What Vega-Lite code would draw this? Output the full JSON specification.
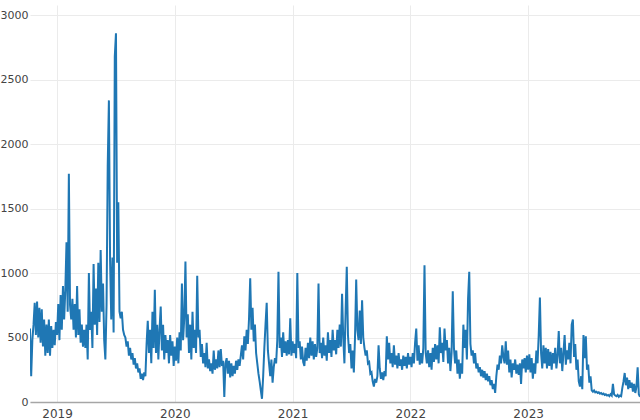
{
  "$schema": "https://vega.github.io/schema/vega-lite/v6.json",
  "autosize": {"type": "none"},
  "width": 610,
  "height": 397,
  "padding": {"left": 30, "top": 5, "right": 0, "bottom": 18},
  "background": "white",
  "config": {"view": {"stroke": null}},
  "data": {"values": [
    {"t":2018.77,"v":570},{"t":2018.78,"v":200},{"t":2018.79,"v":480},{"t":2018.80,"v":600},{"t":2018.81,"v":770},{"t":2018.82,"v":520},{"t":2018.83,"v":780},{"t":2018.84,"v":500},{"t":2018.85,"v":730},{"t":2018.86,"v":460},{"t":2018.87,"v":720},{"t":2018.88,"v":430},{"t":2018.89,"v":640},{"t":2018.90,"v":360},{"t":2018.91,"v":600},{"t":2018.92,"v":380},{"t":2018.93,"v":640},{"t":2018.94,"v":360},{"t":2018.95,"v":590},{"t":2018.96,"v":420},{"t":2018.97,"v":560},{"t":2018.98,"v":440},{"t":2018.99,"v":620},
    {"t":2019.00,"v":520},{"t":2019.01,"v":760},{"t":2019.02,"v":480},{"t":2019.03,"v":830},{"t":2019.04,"v":560},{"t":2019.05,"v":900},{"t":2019.06,"v":640},{"t":2019.07,"v":870},{"t":2019.08,"v":1240},{"t":2019.09,"v":700},{"t":2019.10,"v":1770},{"t":2019.11,"v":750},{"t":2019.12,"v":640},{"t":2019.13,"v":800},{"t":2019.14,"v":560},{"t":2019.15,"v":760},{"t":2019.16,"v":500},{"t":2019.17,"v":900},{"t":2019.18,"v":520},{"t":2019.19,"v":720},{"t":2019.20,"v":460},{"t":2019.21,"v":600},{"t":2019.22,"v":430},{"t":2019.23,"v":560},{"t":2019.24,"v":420},{"t":2019.25,"v":600},{"t":2019.26,"v":330},{"t":2019.27,"v":1000},{"t":2019.28,"v":560},{"t":2019.29,"v":700},{"t":2019.30,"v":420},{"t":2019.31,"v":1070},{"t":2019.32,"v":600},{"t":2019.33,"v":880},{"t":2019.34,"v":520},{"t":2019.35,"v":1080},{"t":2019.36,"v":620},{"t":2019.37,"v":1180},{"t":2019.38,"v":700},{"t":2019.39,"v":920},{"t":2019.40,"v":480},{"t":2019.41,"v":330},{"t":2019.42,"v":750},{"t":2019.43,"v":1830},{"t":2019.44,"v":2340},{"t":2019.45,"v":1100},{"t":2019.46,"v":640},{"t":2019.47,"v":1120},{"t":2019.48,"v":540},{"t":2019.49,"v":2680},{"t":2019.50,"v":2860},{"t":2019.51,"v":1080},{"t":2019.52,"v":1550},{"t":2019.53,"v":700},{"t":2019.54,"v":650},{"t":2019.55,"v":700},{"t":2019.56,"v":560},{"t":2019.57,"v":520},{"t":2019.58,"v":500},{"t":2019.59,"v":430},{"t":2019.60,"v":470},{"t":2019.61,"v":360},{"t":2019.62,"v":420},{"t":2019.63,"v":330},{"t":2019.64,"v":380},{"t":2019.65,"v":290},{"t":2019.66,"v":340},{"t":2019.67,"v":260},{"t":2019.68,"v":300},{"t":2019.69,"v":230},{"t":2019.70,"v":260},{"t":2019.71,"v":180},{"t":2019.72,"v":220},{"t":2019.73,"v":170},{"t":2019.74,"v":230},{"t":2019.75,"v":200},{"t":2019.76,"v":450},{"t":2019.77,"v":630},{"t":2019.78,"v":380},{"t":2019.79,"v":560},{"t":2019.80,"v":300},{"t":2019.81,"v":700},{"t":2019.82,"v":420},{"t":2019.83,"v":870},{"t":2019.84,"v":380},{"t":2019.85,"v":600},{"t":2019.86,"v":330},{"t":2019.87,"v":560},{"t":2019.88,"v":740},{"t":2019.89,"v":400},{"t":2019.90,"v":600},{"t":2019.91,"v":330},{"t":2019.92,"v":520},{"t":2019.93,"v":380},{"t":2019.94,"v":480},{"t":2019.95,"v":300},{"t":2019.96,"v":520},{"t":2019.97,"v":360},{"t":2019.98,"v":470},{"t":2019.99,"v":280},
    {"t":2020.00,"v":430},{"t":2020.01,"v":320},{"t":2020.02,"v":500},{"t":2020.03,"v":300},{"t":2020.04,"v":540},{"t":2020.05,"v":400},{"t":2020.06,"v":920},{"t":2020.07,"v":480},{"t":2020.08,"v":650},{"t":2020.09,"v":1090},{"t":2020.10,"v":500},{"t":2020.11,"v":680},{"t":2020.12,"v":380},{"t":2020.13,"v":600},{"t":2020.14,"v":330},{"t":2020.15,"v":700},{"t":2020.16,"v":420},{"t":2020.17,"v":560},{"t":2020.18,"v":380},{"t":2020.19,"v":980},{"t":2020.20,"v":500},{"t":2020.21,"v":560},{"t":2020.22,"v":350},{"t":2020.23,"v":450},{"t":2020.24,"v":300},{"t":2020.25,"v":380},{"t":2020.26,"v":270},{"t":2020.27,"v":460},{"t":2020.28,"v":260},{"t":2020.29,"v":330},{"t":2020.30,"v":240},{"t":2020.31,"v":300},{"t":2020.32,"v":220},{"t":2020.33,"v":400},{"t":2020.34,"v":250},{"t":2020.35,"v":330},{"t":2020.36,"v":260},{"t":2020.37,"v":400},{"t":2020.38,"v":270},{"t":2020.39,"v":410},{"t":2020.40,"v":280},{"t":2020.41,"v":320},{"t":2020.42,"v":40},{"t":2020.43,"v":300},{"t":2020.44,"v":340},{"t":2020.45,"v":220},{"t":2020.46,"v":320},{"t":2020.47,"v":190},{"t":2020.48,"v":300},{"t":2020.49,"v":200},{"t":2020.50,"v":280},{"t":2020.51,"v":220},{"t":2020.52,"v":320},{"t":2020.53,"v":250},{"t":2020.54,"v":330},{"t":2020.55,"v":280},{"t":2020.56,"v":360},{"t":2020.57,"v":440},{"t":2020.58,"v":330},{"t":2020.59,"v":510},{"t":2020.60,"v":400},{"t":2020.61,"v":560},{"t":2020.62,"v":450},{"t":2020.63,"v":650},{"t":2020.64,"v":960},{"t":2020.65,"v":560},{"t":2020.66,"v":730},{"t":2020.67,"v":470},{"t":2020.68,"v":600},{"t":2020.69,"v":380},{"t":2020.70,"v":300},{"t":2020.71,"v":220},{"t":2020.72,"v":160},{"t":2020.73,"v":90},{"t":2020.74,"v":25},{"t":2020.75,"v":200},{"t":2020.76,"v":420},{"t":2020.77,"v":600},{"t":2020.78,"v":770},{"t":2020.79,"v":400},{"t":2020.80,"v":300},{"t":2020.81,"v":200},{"t":2020.82,"v":330},{"t":2020.83,"v":150},{"t":2020.84,"v":270},{"t":2020.85,"v":340},{"t":2020.86,"v":300},{"t":2020.87,"v":480},{"t":2020.88,"v":1010},{"t":2020.89,"v":420},{"t":2020.90,"v":500},{"t":2020.91,"v":350},{"t":2020.92,"v":540},{"t":2020.93,"v":380},{"t":2020.94,"v":470},{"t":2020.95,"v":360},{"t":2020.96,"v":480},{"t":2020.97,"v":370},{"t":2020.98,"v":650},{"t":2020.99,"v":360},
    {"t":2021.00,"v":470},{"t":2021.01,"v":380},{"t":2021.02,"v":450},{"t":2021.03,"v":340},{"t":2021.04,"v":1000},{"t":2021.05,"v":420},{"t":2021.06,"v":470},{"t":2021.07,"v":330},{"t":2021.08,"v":430},{"t":2021.09,"v":310},{"t":2021.10,"v":280},{"t":2021.11,"v":420},{"t":2021.12,"v":320},{"t":2021.13,"v":460},{"t":2021.14,"v":340},{"t":2021.15,"v":500},{"t":2021.16,"v":360},{"t":2021.17,"v":470},{"t":2021.18,"v":330},{"t":2021.19,"v":450},{"t":2021.20,"v":350},{"t":2021.21,"v":420},{"t":2021.22,"v":920},{"t":2021.23,"v":380},{"t":2021.24,"v":460},{"t":2021.25,"v":340},{"t":2021.26,"v":500},{"t":2021.27,"v":360},{"t":2021.28,"v":440},{"t":2021.29,"v":320},{"t":2021.30,"v":540},{"t":2021.31,"v":380},{"t":2021.32,"v":480},{"t":2021.33,"v":350},{"t":2021.34,"v":560},{"t":2021.35,"v":400},{"t":2021.36,"v":480},{"t":2021.37,"v":370},{"t":2021.38,"v":560},{"t":2021.39,"v":420},{"t":2021.40,"v":600},{"t":2021.41,"v":430},{"t":2021.42,"v":840},{"t":2021.43,"v":500},{"t":2021.44,"v":300},{"t":2021.45,"v":700},{"t":2021.46,"v":1050},{"t":2021.47,"v":520},{"t":2021.48,"v":380},{"t":2021.49,"v":450},{"t":2021.50,"v":260},{"t":2021.51,"v":400},{"t":2021.52,"v":230},{"t":2021.53,"v":500},{"t":2021.54,"v":950},{"t":2021.55,"v":560},{"t":2021.56,"v":480},{"t":2021.57,"v":710},{"t":2021.58,"v":450},{"t":2021.59,"v":790},{"t":2021.60,"v":500},{"t":2021.61,"v":420},{"t":2021.62,"v":360},{"t":2021.63,"v":400},{"t":2021.64,"v":300},{"t":2021.65,"v":310},{"t":2021.66,"v":220},{"t":2021.67,"v":230},{"t":2021.68,"v":160},{"t":2021.69,"v":120},{"t":2021.70,"v":180},{"t":2021.71,"v":150},{"t":2021.72,"v":200},{"t":2021.73,"v":440},{"t":2021.74,"v":260},{"t":2021.75,"v":180},{"t":2021.76,"v":230},{"t":2021.77,"v":170},{"t":2021.78,"v":240},{"t":2021.79,"v":200},{"t":2021.80,"v":510},{"t":2021.81,"v":330},{"t":2021.82,"v":460},{"t":2021.83,"v":300},{"t":2021.84,"v":380},{"t":2021.85,"v":270},{"t":2021.86,"v":440},{"t":2021.87,"v":290},{"t":2021.88,"v":360},{"t":2021.89,"v":260},{"t":2021.90,"v":380},{"t":2021.91,"v":280},{"t":2021.92,"v":330},{"t":2021.93,"v":250},{"t":2021.94,"v":360},{"t":2021.95,"v":280},{"t":2021.96,"v":350},{"t":2021.97,"v":260},{"t":2021.98,"v":380},{"t":2021.99,"v":290},
    {"t":2022.00,"v":350},{"t":2022.01,"v":270},{"t":2022.02,"v":380},{"t":2022.03,"v":300},{"t":2022.04,"v":460},{"t":2022.05,"v":570},{"t":2022.06,"v":320},{"t":2022.07,"v":440},{"t":2022.08,"v":290},{"t":2022.09,"v":380},{"t":2022.10,"v":300},{"t":2022.11,"v":420},{"t":2022.12,"v":1060},{"t":2022.13,"v":380},{"t":2022.14,"v":300},{"t":2022.15,"v":400},{"t":2022.16,"v":270},{"t":2022.17,"v":380},{"t":2022.18,"v":250},{"t":2022.19,"v":420},{"t":2022.20,"v":310},{"t":2022.21,"v":450},{"t":2022.22,"v":330},{"t":2022.23,"v":440},{"t":2022.24,"v":300},{"t":2022.25,"v":580},{"t":2022.26,"v":380},{"t":2022.27,"v":460},{"t":2022.28,"v":310},{"t":2022.29,"v":570},{"t":2022.30,"v":400},{"t":2022.31,"v":480},{"t":2022.32,"v":300},{"t":2022.33,"v":420},{"t":2022.34,"v":240},{"t":2022.35,"v":380},{"t":2022.36,"v":860},{"t":2022.37,"v":420},{"t":2022.38,"v":300},{"t":2022.39,"v":400},{"t":2022.40,"v":220},{"t":2022.41,"v":330},{"t":2022.42,"v":180},{"t":2022.43,"v":300},{"t":2022.44,"v":220},{"t":2022.45,"v":600},{"t":2022.46,"v":420},{"t":2022.47,"v":560},{"t":2022.48,"v":330},{"t":2022.49,"v":800},{"t":2022.50,"v":1010},{"t":2022.51,"v":450},{"t":2022.52,"v":360},{"t":2022.53,"v":400},{"t":2022.54,"v":300},{"t":2022.55,"v":380},{"t":2022.56,"v":260},{"t":2022.57,"v":300},{"t":2022.58,"v":230},{"t":2022.59,"v":270},{"t":2022.60,"v":200},{"t":2022.61,"v":250},{"t":2022.62,"v":190},{"t":2022.63,"v":240},{"t":2022.64,"v":170},{"t":2022.65,"v":220},{"t":2022.66,"v":160},{"t":2022.67,"v":200},{"t":2022.68,"v":130},{"t":2022.69,"v":170},{"t":2022.70,"v":100},{"t":2022.71,"v":140},{"t":2022.72,"v":70},{"t":2022.73,"v":200},{"t":2022.74,"v":290},{"t":2022.75,"v":250},{"t":2022.76,"v":360},{"t":2022.77,"v":300},{"t":2022.78,"v":440},{"t":2022.79,"v":350},{"t":2022.80,"v":300},{"t":2022.81,"v":470},{"t":2022.82,"v":290},{"t":2022.83,"v":400},{"t":2022.84,"v":230},{"t":2022.85,"v":330},{"t":2022.86,"v":190},{"t":2022.87,"v":300},{"t":2022.88,"v":250},{"t":2022.89,"v":330},{"t":2022.90,"v":220},{"t":2022.91,"v":290},{"t":2022.92,"v":210},{"t":2022.93,"v":300},{"t":2022.94,"v":140},{"t":2022.95,"v":330},{"t":2022.96,"v":260},{"t":2022.97,"v":340},{"t":2022.98,"v":230},{"t":2022.99,"v":360},
    {"t":2023.00,"v":250},{"t":2023.01,"v":370},{"t":2023.02,"v":230},{"t":2023.03,"v":340},{"t":2023.04,"v":180},{"t":2023.05,"v":300},{"t":2023.06,"v":220},{"t":2023.07,"v":400},{"t":2023.08,"v":300},{"t":2023.09,"v":520},{"t":2023.10,"v":810},{"t":2023.11,"v":380},{"t":2023.12,"v":260},{"t":2023.13,"v":440},{"t":2023.14,"v":300},{"t":2023.15,"v":420},{"t":2023.16,"v":260},{"t":2023.17,"v":410},{"t":2023.18,"v":280},{"t":2023.19,"v":390},{"t":2023.20,"v":250},{"t":2023.21,"v":380},{"t":2023.22,"v":300},{"t":2023.23,"v":420},{"t":2023.24,"v":260},{"t":2023.25,"v":360},{"t":2023.26,"v":550},{"t":2023.27,"v":300},{"t":2023.28,"v":420},{"t":2023.29,"v":240},{"t":2023.30,"v":380},{"t":2023.31,"v":520},{"t":2023.32,"v":290},{"t":2023.33,"v":400},{"t":2023.34,"v":330},{"t":2023.35,"v":460},{"t":2023.36,"v":300},{"t":2023.37,"v":600},{"t":2023.38,"v":640},{"t":2023.39,"v":350},{"t":2023.40,"v":450},{"t":2023.41,"v":250},{"t":2023.42,"v":330},{"t":2023.43,"v":160},{"t":2023.44,"v":120},{"t":2023.45,"v":200},{"t":2023.46,"v":100},{"t":2023.47,"v":520},{"t":2023.48,"v":340},{"t":2023.49,"v":510},{"t":2023.50,"v":250},{"t":2023.51,"v":290},{"t":2023.52,"v":150},{"t":2023.53,"v":200},{"t":2023.54,"v":90},{"t":2023.55,"v":80},{"t":2023.56,"v":90},{"t":2023.57,"v":75},{"t":2023.58,"v":80},{"t":2023.59,"v":70},{"t":2023.60,"v":75},{"t":2023.61,"v":65},{"t":2023.62,"v":70},{"t":2023.63,"v":60},{"t":2023.64,"v":65},{"t":2023.65,"v":55},{"t":2023.66,"v":60},{"t":2023.67,"v":50},{"t":2023.68,"v":55},{"t":2023.69,"v":45},{"t":2023.70,"v":60},{"t":2023.71,"v":50},{"t":2023.72,"v":140},{"t":2023.73,"v":60},{"t":2023.74,"v":50},{"t":2023.75,"v":45},{"t":2023.76,"v":55},{"t":2023.77,"v":40},{"t":2023.78,"v":50},{"t":2023.79,"v":45},{"t":2023.80,"v":110},{"t":2023.81,"v":160},{"t":2023.82,"v":225},{"t":2023.83,"v":130},{"t":2023.84,"v":190},{"t":2023.85,"v":100},{"t":2023.86,"v":170},{"t":2023.87,"v":110},{"t":2023.88,"v":150},{"t":2023.89,"v":80},{"t":2023.90,"v":140},{"t":2023.91,"v":70},{"t":2023.92,"v":120},{"t":2023.93,"v":270},{"t":2023.94,"v":60},{"t":2023.95,"v":40}
  ]},
  "mark": {"type": "line", "color": "#1f77b4", "strokeWidth": 2, "clip": true},
  "encoding": {
    "x": {
      "field": "t", "type": "quantitative",
      "scale": {"domain": [2018.77, 2023.95], "nice": false, "zero": false},
      "axis": {
        "title": null, "values": [2019, 2020, 2021, 2022, 2023], "format": "d",
        "grid": true, "gridColor": "#ebebeb", "gridWidth": 1,
        "domain": true, "domainColor": "#a6a6a6", "domainWidth": 1.5,
        "ticks": false, "labelPadding": 6,
        "labelFont": "DejaVu Sans", "labelFontSize": 12, "labelColor": "#444"
      }
    },
    "y": {
      "field": "v", "type": "quantitative",
      "scale": {"domain": [0, 3080], "nice": false},
      "axis": {
        "title": null, "values": [0, 500, 1000, 1500, 2000, 2500, 3000], "format": "d",
        "grid": true, "gridColor": "#ebebeb", "gridWidth": 1,
        "domain": false, "ticks": false, "labelPadding": 2,
        "labelFont": "DejaVu Sans", "labelFontSize": 11, "labelColor": "#444"
      }
    }
  }
}
